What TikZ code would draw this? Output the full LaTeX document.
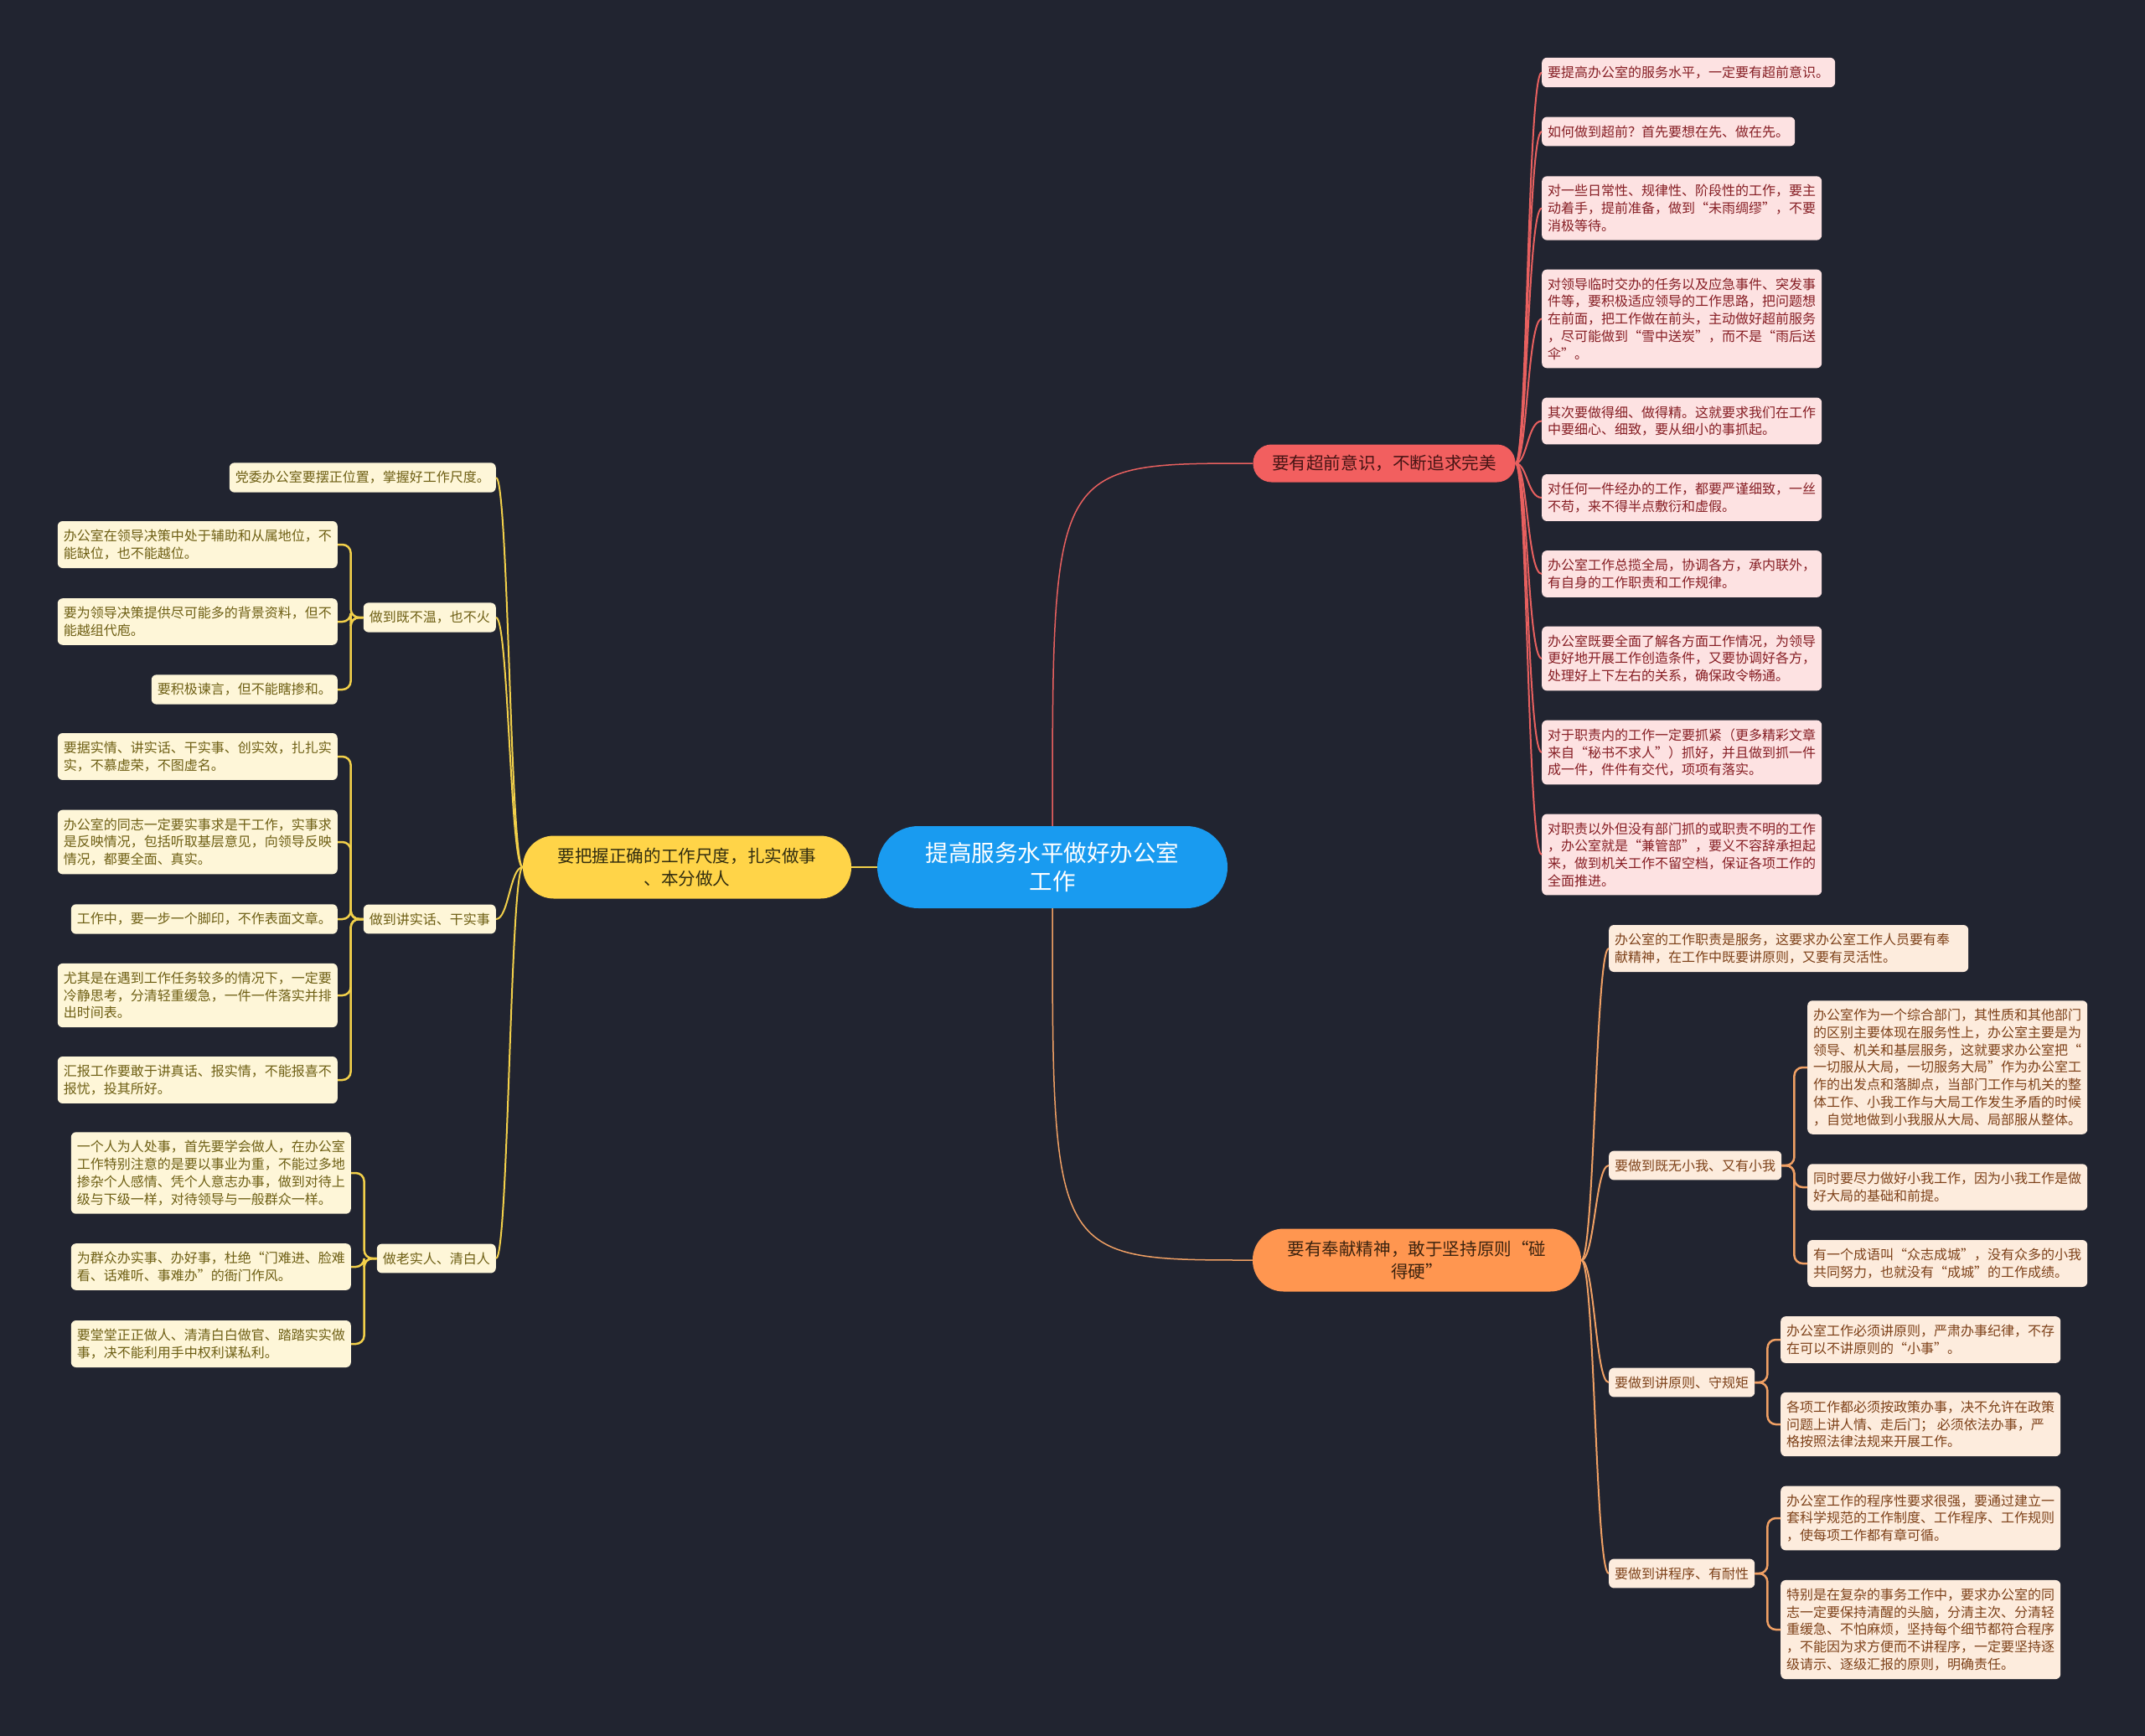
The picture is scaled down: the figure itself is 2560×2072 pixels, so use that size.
\documentclass[tikz,border=0pt]{standalone}
\usepackage{fontspec}
\setmainfont{Noto Sans CJK SC}

% couleurs
\definecolor{fond}{HTML}{212430}
\definecolor{bleu}{HTML}{199BF0}
\definecolor{rouge}{HTML}{F25F5F}
\definecolor{rougetxt}{HTML}{461414}
\definecolor{rougeclair}{HTML}{FDE2E2}
\definecolor{rougefonce}{HTML}{861E24}
\definecolor{rougelien}{HTML}{E8605F}
\definecolor{orange}{HTML}{FF9650}
\definecolor{orangetxt}{HTML}{3C230F}
\definecolor{orangeclair}{HTML}{FDECDD}
\definecolor{orangefonce}{HTML}{7D4119}
\definecolor{orangelien}{HTML}{F0A064}
\definecolor{jaune}{HTML}{FFD448}
\definecolor{jaunetxt}{HTML}{322D0F}
\definecolor{jauneclair}{HTML}{FEF6D8}
\definecolor{jaunefonce}{HTML}{6E5F14}
\definecolor{jaunelien}{HTML}{F2D04A}

\tikzset{
  racine/.style={fill=bleu, text=white, align=center, rounded corners=49pt,
    minimum width=418pt, minimum height=98pt, font=\fontsize{27.5}{34}\selectfont},
  branche/.style={align=center, rounded corners=37pt, minimum width=392pt,
    minimum height=75pt, inner sep=4pt, font=\fontsize{20.6}{27}\selectfont},
  feuille/.style={align=left, rounded corners=6pt, inner xsep=7pt, inner ysep=10pt,
    font=\fontsize{16}{20.7}\selectfont},
  fR/.style={feuille, fill=rougeclair, text=rougefonce, anchor=west},
  fO/.style={feuille, fill=orangeclair, text=orangefonce, anchor=west},
  fJ/.style={feuille, fill=jauneclair, text=jaunefonce, anchor=east},
  lienR/.style={draw=rougelien, line width=2pt},
  lienO/.style={draw=orangelien, line width=2pt},
  lienJ/.style={draw=jaunelien, line width=2pt},
  coudeO/.style={lienO, line width=2.5pt, rounded corners=10pt},
  coudeJ/.style={lienJ, line width=2.5pt, rounded corners=10pt}
}

\begin{document}
\begin{tikzpicture}[x=1pt,y=-1pt]
  % fond
  \fill[fond] (0,0) rectangle (2560,2072);

  % racine et branches
  \node[racine] (r) at (1256,1035) {提高服务水平做好办公室\\工作};
  \node[branche, fill=rouge, text=rougetxt, minimum width=313pt, minimum height=45pt,
    rounded corners=22pt] (br) at (1652,553) {要有超前意识，不断追求完美};
  \node[branche, fill=orange, text=orangetxt] (bo) at (1691,1504) {要有奉献精神，敢于坚持原则“碰\\得硬”};
  \node[branche, fill=jaune, text=jaunetxt] (bj) at (820,1035) {要把握正确的工作尺度，扎实做事\\、本分做人};

  % branche rouge
  \node[fR] (r1) at (1840,86.5) {要提高办公室的服务水平，一定要有超前意识。};
  \node[fR] (r2) at (1840,157) {如何做到超前？首先要想在先、做在先。};
  \node[fR] (r3) at (1840,248.5) {对一些日常性、规律性、阶段性的工作，要主\\动着手，提前准备，做到“未雨绸缪”，不要\\消极等待。};
  \node[fR] (r4) at (1840,380.5) {对领导临时交办的任务以及应急事件、突发事\\件等，要积极适应领导的工作思路，把问题想\\在前面，把工作做在前头，主动做好超前服务\\，尽可能做到“雪中送炭”，而不是“雨后送\\伞”。};
  \node[fR] (r5) at (1840,502.5) {其次要做得细、做得精。这就要求我们在工作\\中要细心、细致，要从细小的事抓起。};
  \node[fR] (r6) at (1840,594) {对任何一件经办的工作，都要严谨细致，一丝\\不苟，来不得半点敷衍和虚假。};
  \node[fR] (r7) at (1840,685) {办公室工作总揽全局，协调各方，承内联外，\\有自身的工作职责和工作规律。};
  \node[fR] (r8) at (1840,786) {办公室既要全面了解各方面工作情况，为领导\\更好地开展工作创造条件，又要协调好各方，\\处理好上下左右的关系，确保政令畅通。};
  \node[fR] (r9) at (1840,898) {对于职责内的工作一定要抓紧（更多精彩文章\\来自“秘书不求人”）抓好，并且做到抓一件\\成一件，件件有交代，项项有落实。};
  \node[fR] (r10) at (1840,1020) {对职责以外但没有部门抓的或职责不明的工作\\，办公室就是“兼管部”，要义不容辞承担起\\来，做到机关工作不留空档，保证各项工作的\\全面推进。};

  % branche orange
  \node[fO, text width=415pt] (o1) at (1920,1132) {办公室的工作职责是服务，这要求办公室工作人员要有奉\\献精神，在工作中既要讲原则，又要有灵活性。};
  \node[fO] (os1) at (1920,1391) {要做到既无小我、又有小我};
  \node[fO] (o2) at (2157,1274) {办公室作为一个综合部门，其性质和其他部门\\的区别主要体现在服务性上，办公室主要是为\\领导、机关和基层服务，这就要求办公室把“\\一切服从大局，一切服务大局”作为办公室工\\作的出发点和落脚点，当部门工作与机关的整\\体工作、小我工作与大局工作发生矛盾的时候\\，自觉地做到小我服从大局、局部服从整体。};
  \node[fO] (o3) at (2157,1417) {同时要尽力做好小我工作，因为小我工作是做\\好大局的基础和前提。};
  \node[fO] (o4) at (2157,1508) {有一个成语叫“众志成城”，没有众多的小我\\共同努力，也就没有“成城”的工作成绩。};
  \node[fO] (os2) at (1920,1650) {要做到讲原则、守规矩};
  \node[fO] (o5) at (2125,1599) {办公室工作必须讲原则，严肃办事纪律，不存\\在可以不讲原则的“小事”。};
  \node[fO] (o6) at (2125,1700) {各项工作都必须按政策办事，决不允许在政策\\问题上讲人情、走后门； 必须依法办事，严\\格按照法律法规来开展工作。};
  \node[fO] (os3) at (1920,1878) {要做到讲程序、有耐性};
  \node[fO] (o7) at (2125,1812) {办公室工作的程序性要求很强，要通过建立一\\套科学规范的工作制度、工作程序、工作规则\\，使每项工作都有章可循。};
  \node[fO] (o8) at (2125,1945) {特别是在复杂的事务工作中，要求办公室的同\\志一定要保持清醒的头脑，分清主次、分清轻\\重缓急、不怕麻烦，坚持每个细节都符合程序\\，不能因为求方便而不讲程序，一定要坚持逐\\级请示、逐级汇报的原则，明确责任。};

  % branche jaune
  \node[fJ] (y0) at (592,570) {党委办公室要摆正位置，掌握好工作尺度。};
  \node[fJ] (ys1) at (592,737) {做到既不温，也不火};
  \node[fJ] (a1) at (403,650) {办公室在领导决策中处于辅助和从属地位，不\\能缺位，也不能越位。};
  \node[fJ] (a2) at (403,742) {要为领导决策提供尽可能多的背景资料，但不\\能越组代庖。};
  \node[fJ] (a3) at (403,823) {要积极谏言，但不能瞎掺和。};
  \node[fJ] (ys2) at (592,1097) {做到讲实话、干实事};
  \node[fJ] (b1) at (403,903) {要据实情、讲实话、干实事、创实效，扎扎实\\实，不慕虚荣，不图虚名。};
  \node[fJ] (b2) at (403,1005) {办公室的同志一定要实事求是干工作，实事求\\是反映情况，包括听取基层意见，向领导反映\\情况，都要全面、真实。};
  \node[fJ] (b3) at (403,1097) {工作中，要一步一个脚印，不作表面文章。};
  \node[fJ] (b4) at (403,1188) {尤其是在遇到工作任务较多的情况下，一定要\\冷静思考，分清轻重缓急，一件一件落实并排\\出时间表。};
  \node[fJ] (b5) at (403,1289) {汇报工作要敢于讲真话、报实情，不能报喜不\\报忧，投其所好。};
  \node[fJ] (ys3) at (592,1502) {做老实人、清白人};
  \node[fJ] (c1) at (419,1400) {一个人为人处事，首先要学会做人，在办公室\\工作特别注意的是要以事业为重，不能过多地\\掺杂个人感情、凭个人意志办事，做到对待上\\级与下级一样，对待领导与一般群众一样。};
  \node[fJ] (c2) at (419,1512) {为群众办实事、办好事，杜绝“门难进、脸难\\看、话难听、事难办”的衙门作风。};
  \node[fJ] (c3) at (419,1604) {要堂堂正正做人、清清白白做官、踏踏实实做\\事，决不能利用手中权利谋私利。};

  % liens racine
  \draw[lienR, line width=1.5pt] (r.north) .. controls (r.north |- br) and (r.north |- br) .. (br.west);
  \draw[lienO, line width=1.5pt] (r.south) .. controls (r.south |- bo) and (r.south |- bo) .. (bo.west);
  \draw[lienJ, line width=1.5pt] (r.west) -- (bj.east);

  % liens branches
  \foreach \f in {r1,r2,r3,r4,r5,r6,r7,r8,r9,r10}
    \draw[lienR] (br.east) .. controls +(14,0) and +(-17,0) .. (\f.west);
  \foreach \f in {o1,os1,os2,os3}
    \draw[lienO] (bo.east) .. controls +(16,0) and +(-16,0) .. (\f.west);
  \foreach \f in {y0,ys1,ys2,ys3}
    \draw[lienJ] (bj.west) .. controls +(-15,0) and +(15,0) .. (\f.east);

  % liens coudes
  \foreach \f in {a1,a2,a3}
    \draw[coudeJ] (ys1.west) -- ++(-15,0) |- (\f.east);
  \foreach \f in {b1,b2,b3,b4,b5}
    \draw[coudeJ] (ys2.west) -- ++(-15,0) |- (\f.east);
  \foreach \f in {c1,c2,c3}
    \draw[coudeJ] (ys3.west) -- ++(-15,0) |- (\f.east);
  \foreach \f in {o2,o3,o4}
    \draw[coudeO] (os1.east) -- ++(15,0) |- (\f.west);
  \foreach \f in {o5,o6}
    \draw[coudeO] (os2.east) -- ++(15,0) |- (\f.west);
  \foreach \f in {o7,o8}
    \draw[coudeO] (os3.east) -- ++(15,0) |- (\f.west);
\end{tikzpicture}
\end{document}
